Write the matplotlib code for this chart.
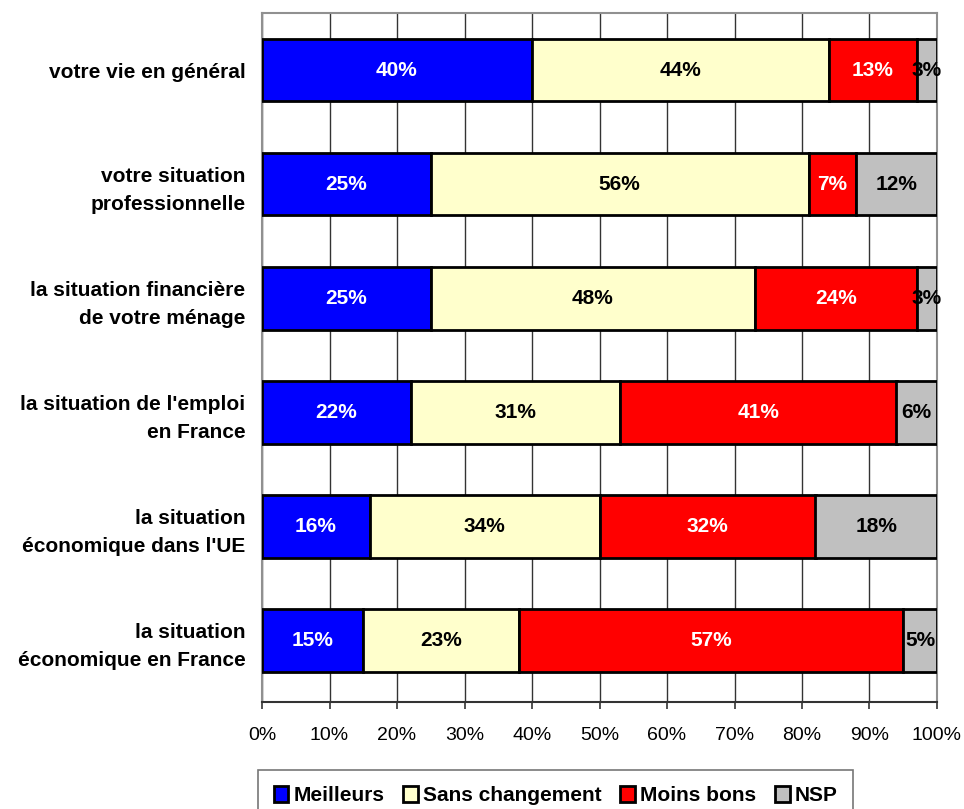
import matplotlib
matplotlib.use("Agg")
import matplotlib.pyplot as plt
from matplotlib.ticker import FuncFormatter
import numpy as np

categories = [
    "votre vie en général",
    "votre situation\nprofessionnelle",
    "la situation financière\nde votre ménage",
    "la situation de l'emploi\nen France",
    "la situation\néconomique dans l'UE",
    "la situation\néconomique en France",
]
series_names = ["Meilleurs", "Sans changement", "Moins bons", "NSP"]
meilleurs = [40, 25, 25, 22, 16, 15]
sans_changement = [44, 56, 48, 31, 34, 23]
moins_bons = [13, 7, 24, 41, 32, 57]
nsp = [3, 12, 3, 6, 18, 5]
x_ticks = [0, 10, 20, 30, 40, 50, 60, 70, 80, 90, 100]

colors = ["#0000FF", "#FFFFCC", "#FF0000", "#C0C0C0"]
text_colors = ["white", "black", "white", "black"]

plt.rcParams['font.family'] = ['Liberation Sans', 'DejaVu Sans']

fig = plt.figure(figsize=(9.64, 8.09), dpi=100)
ax = fig.add_axes([262/964, 1-702/809, (937-262)/964, (702-13)/809])

data = [meilleurs, sans_changement, moins_bons, nsp]
y = np.arange(len(categories))
left = np.zeros(len(categories))
for vals, name, c, tc in zip(data, series_names, colors, text_colors):
    vals = np.array(vals, dtype=float)
    ax.barh(y, vals, left=left, height=0.55, color=c, edgecolor="black",
            linewidth=2, label=name, zorder=3)
    for yi, (l, v) in enumerate(zip(left, vals)):
        ax.text(l + v/2, yi, f"{int(v)}%", ha="center", va="center",
                color=tc, fontsize=15, fontweight="bold", zorder=4)
    left += vals

ax.set_xlim(0, 100)
ax.set_ylim(len(categories)-0.5+0.04, -0.5)
ax.set_xticks(x_ticks)
ax.xaxis.set_major_formatter(FuncFormatter(lambda v, p: f"{int(v)}%"))
ax.tick_params(axis="x", labelsize=14, direction="out", length=5, width=1.2,
               color="#333333", pad=13)
ax.set_yticks(y)
ax.set_yticklabels(categories, fontsize=15, fontweight="bold", ha="right",
                   linespacing=1.6)
ax.tick_params(axis="y", length=0, pad=12)
ax.grid(axis="x", color="#333333", linewidth=1, zorder=0)
for s in ["top", "right", "left"]:
    ax.spines[s].set_color("#909090")
    ax.spines[s].set_linewidth(1.5)
ax.spines["bottom"].set_color("#333333")
ax.spines["bottom"].set_linewidth(1.5)

leg = fig.legend(loc="upper left", bbox_to_anchor=(258/964, 1-770/809), ncol=4,
                 frameon=True, fancybox=False,
                 prop={"weight": "bold", "size": 15},
                 handlelength=0.7, handleheight=0.8, handletextpad=0.25,
                 columnspacing=0.9, borderpad=0.75, borderaxespad=0,
                 edgecolor="#555555")
leg.get_frame().set_linewidth(1.2)

fig.savefig("out.png", dpi=100)
